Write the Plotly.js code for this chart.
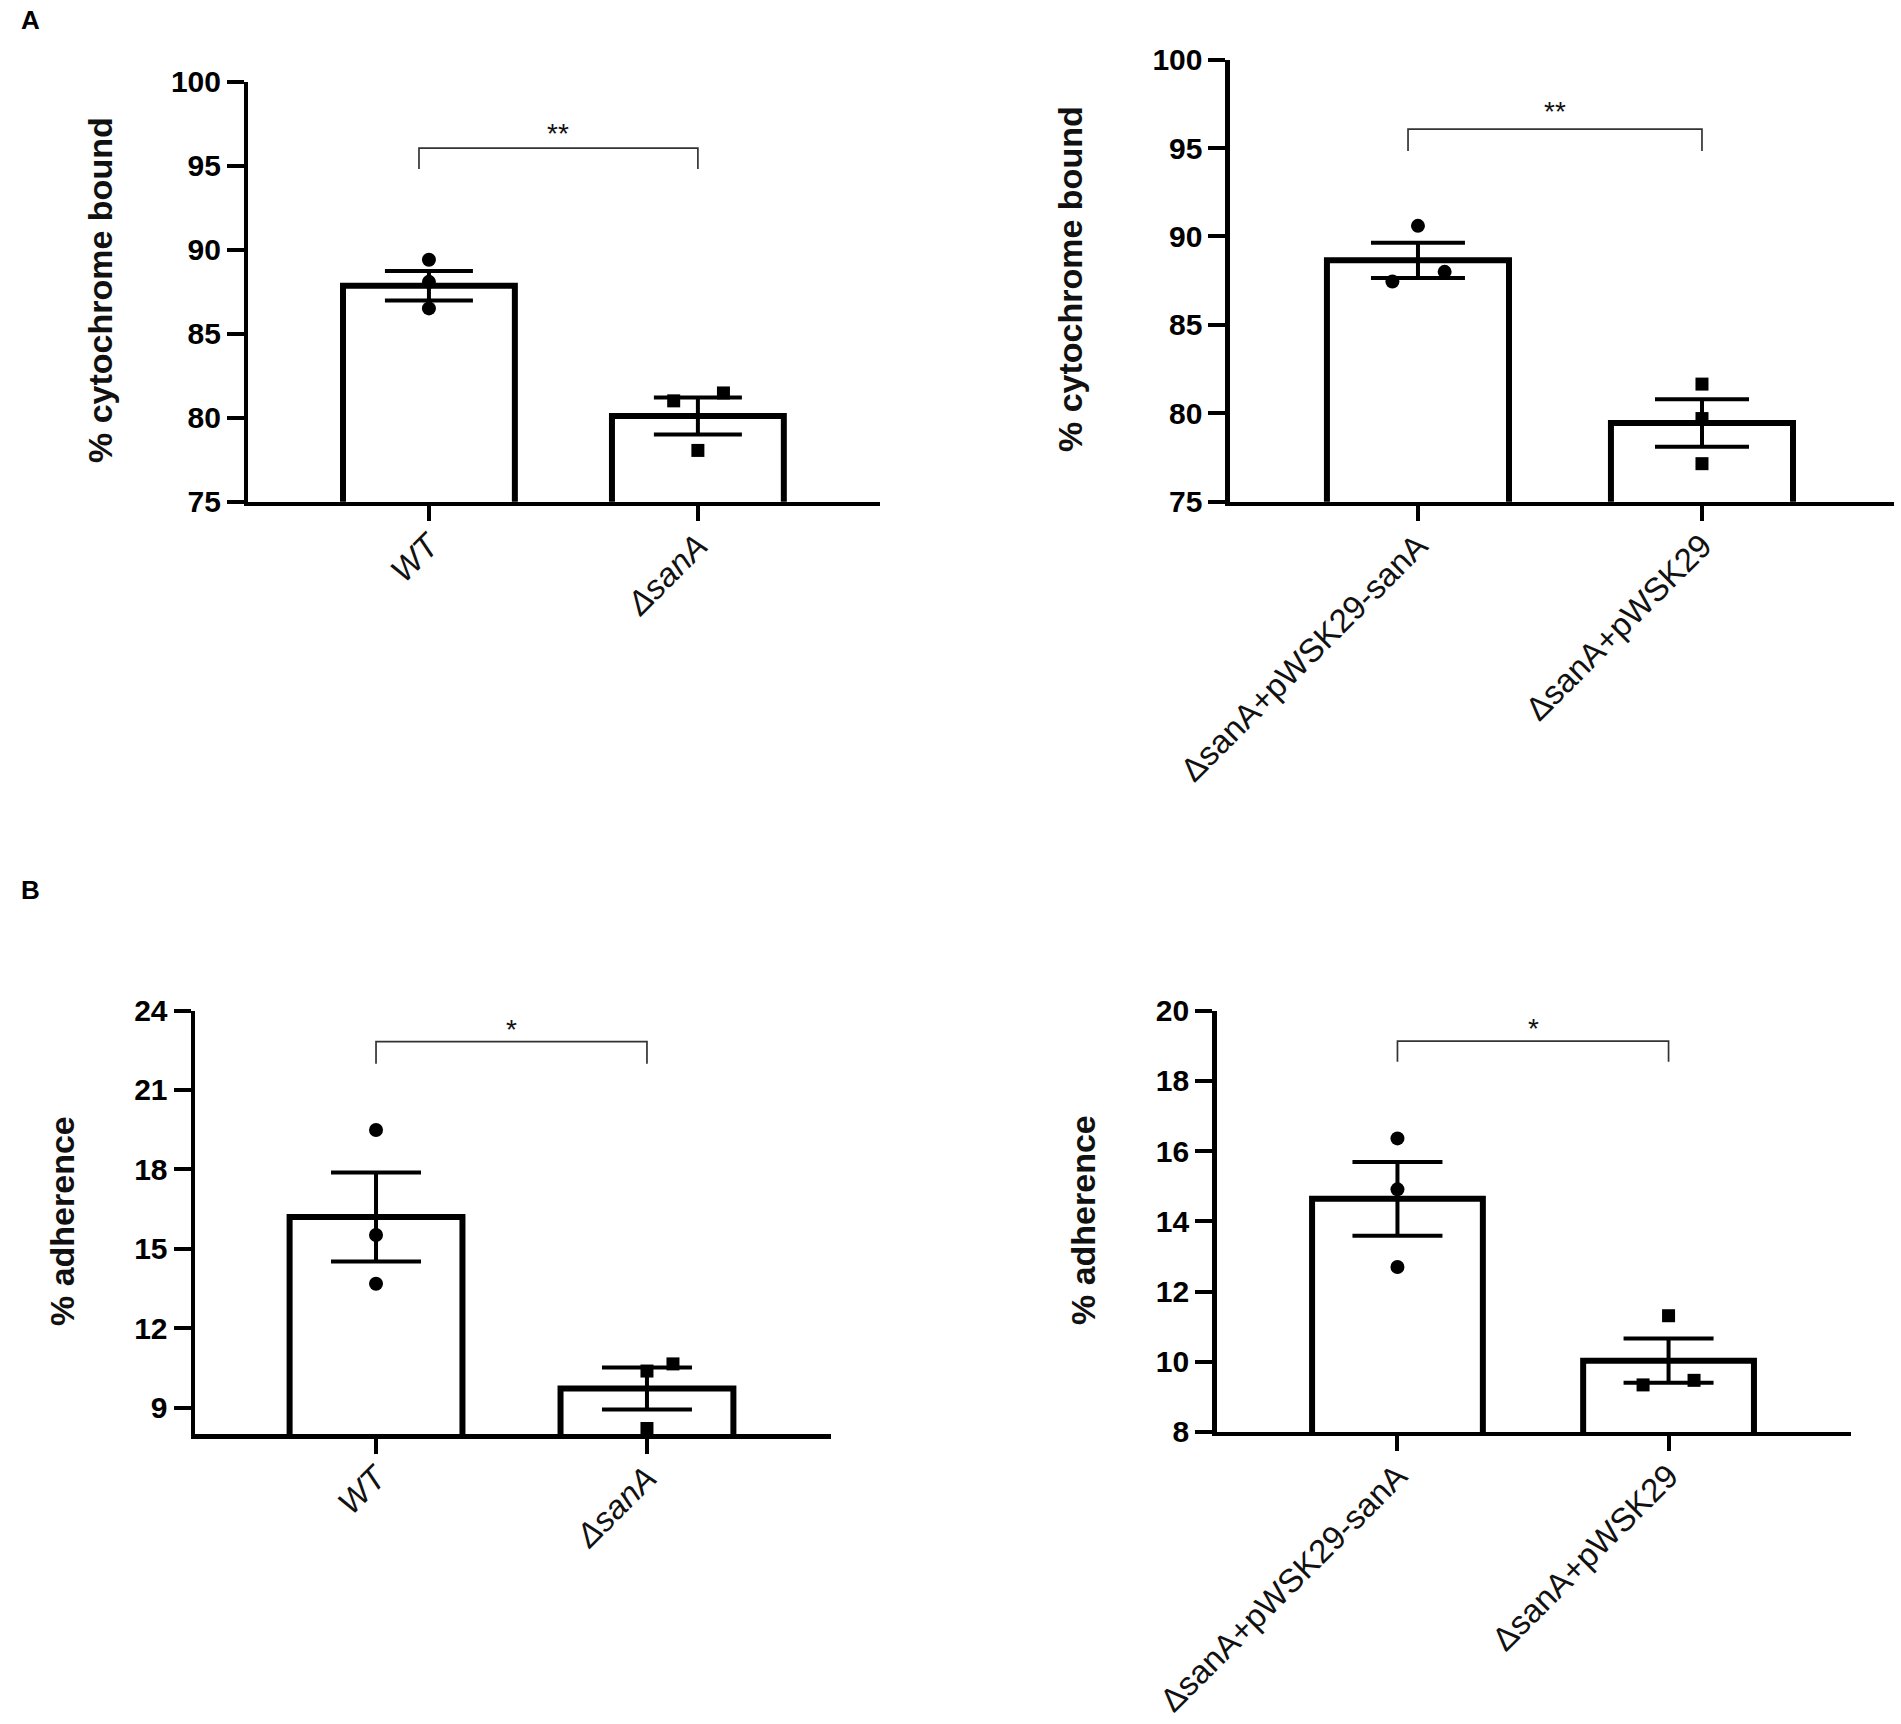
<!DOCTYPE html>
<html>
<head>
<meta charset="utf-8">
<script src="https://cdn.plot.ly/plotly-3.0.1.min.js"></script>
<style>html,body{margin:0;padding:0;background:#fff;}</style>
</head>
<body>
<div id="chart" style="width:1901px;height:1724px;"></div>
<script>
// ---------- data ----------
// Panel A (left): % cytochrome bound
const catA1 = ['WT', 'ΔsanA'];
const meanA1 = [87.85, 80.1];
const semA1 = [0.88, 1.1];
const ptsA1_g1 = [89.4, 88.08, 86.5];
const ptsA1_g2 = [81.0, 81.47, 78.05];
const jitA1_g1 = [0, 0, 0];
const jitA1_g2 = [-0.09, 0.095, 0];

// Panel A (right)
const catA2 = ['ΔsanA+pWSK29-sanA', 'ΔsanA+pWSK29'];
const meanA2 = [88.65, 79.45];
const semA2 = [1.0, 1.35];
const ptsA2_g1 = [90.6, 87.45, 88.0];
const ptsA2_g2 = [81.65, 79.7, 77.15];
const jitA2_g1 = [0, -0.09, 0.094];
const jitA2_g2 = [0, 0, 0];

// Panel B (left): % adherence
const catB1 = ['WT', 'ΔsanA'];
const meanB1 = [16.2, 9.72];
const semB1 = [1.68, 0.79];
const ptsB1_g1 = [19.49, 15.52, 13.68];
const ptsB1_g2 = [10.38, 10.65, 8.21];
const jitB1_g1 = [0, 0, 0];
const jitB1_g2 = [0, 0.096, 0];

// Panel B (right)
const catB2 = ['ΔsanA+pWSK29-sanA', 'ΔsanA+pWSK29'];
const meanB2 = [14.64, 10.03];
const semB2 = [1.05, 0.63];
const ptsB2_g1 = [16.36, 14.91, 12.7];
const ptsB2_g2 = [11.31, 9.34, 9.47];
const jitB2_g1 = [0, 0, 0];
const jitB2_g2 = [0, -0.094, 0.094];

const sigA1 = '**', sigA2 = '**', sigB1 = '*', sigB2 = '*';

// ---------- build ----------
const W = 1901, H = 1724;
const panels = [
  {cats: catA1, italic: true, mean: meanA1, sem: semA1, p1: ptsA1_g1, p2: ptsA1_g2, j1: jitA1_g1, j2: jitA1_g2,
   ax: '', yr: [75, 100], ytick: {dtick: 5, tick0: 75}, xr: [-0.671, 1.677], bw: 0.639, cap: 44,
   dom: {x: [0.1307, 0.4629], y: [0.7090, 0.9527]}, title: '% cytochrome bound', tx: 100, ty: 290,
   br: {y: 96.04, yl: 94.79, x0: -0.037, x1: 1.0, ty: 96.93}, sig: sigA1},
  {cats: catA2, italic: false, mean: meanA2, sem: semA2, p1: ptsA2_g1, p2: ptsA2_g2, j1: jitA2_g1, j2: jitA2_g2,
   ax: '2', yr: [75, 100], ytick: {dtick: 5, tick0: 75}, xr: [-0.662, 1.676], bw: 0.641, cap: 47,
   dom: {x: [0.6470, 0.9963], y: [0.7090, 0.9654]}, title: '% cytochrome bound', tx: 1070, ty: 279,
   br: {y: 96.07, yl: 94.83, x0: -0.035, x1: 1.0, ty: 97.04}, sig: sigA2},
  {cats: catB1, italic: true, mean: meanB1, sem: semB1, p1: ptsB1_g1, p2: ptsB1_g2, j1: jitB1_g1, j2: jitB1_g2,
   ax: '3', yr: [8, 24], ytick: {tickvals: [9, 12, 15, 18, 21, 24]}, xr: [-0.668, 1.679], bw: 0.638, cap: 45,
   dom: {x: [0.1026, 0.4371], y: [0.1682, 0.4138]}, title: '% adherence', tx: 62, ty: 1221,
   br: {y: 22.83, yl: 21.99, x0: 0, x1: 1.0, ty: 23.3}, sig: sigB1},
  {cats: catB2, italic: false, mean: meanB2, sem: semB2, p1: ptsB2_g1, p2: ptsB2_g2, j1: jitB2_g1, j2: jitB2_g2,
   ax: '4', yr: [8, 20], ytick: {dtick: 2, tick0: 8}, xr: [-0.667, 1.673], bw: 0.63, cap: 45,
   dom: {x: [0.6400, 0.9737], y: [0.1694, 0.4138]}, title: '% adherence', tx: 1083, ty: 1220,
   br: {y: 19.13, yl: 18.54, x0: 0, x1: 1.0, ty: 19.49}, sig: sigB2}
];

const traces = [];
const layout = {
  width: W, height: H,
  margin: {l: 0, r: 0, t: 0, b: 0},
  paper_bgcolor: '#ffffff', plot_bgcolor: 'rgba(0,0,0,0)',
  showlegend: false,
  shapes: [], annotations: []
};

panels.forEach(p => {
  const xa = 'x' + p.ax, ya = 'y' + p.ax;
  const xk = 'xaxis' + p.ax, yk = 'yaxis' + p.ax;
  traces.push({
    type: 'bar', x: [0, 1], y: p.mean, xaxis: xa, yaxis: ya, width: p.bw,
    marker: {color: '#ffffff', line: {color: '#000000', width: 6}},
    error_y: {type: 'data', array: p.sem, visible: true, color: '#000000', thickness: 4, width: p.cap},
    hoverinfo: 'skip'
  });
  traces.push({
    type: 'scatter', mode: 'markers', xaxis: xa, yaxis: ya,
    x: p.j1.map(j => 0 + j), y: p.p1,
    marker: {symbol: 'circle', size: 14, color: '#000000'}, cliponaxis: false
  });
  traces.push({
    type: 'scatter', mode: 'markers', xaxis: xa, yaxis: ya,
    x: p.j2.map(j => 1 + j), y: p.p2,
    marker: {symbol: 'square', size: 13, color: '#000000'}, cliponaxis: false
  });
  layout[xk] = {
    domain: p.dom.x, range: p.xr, anchor: ya,
    tickvals: [0, 1], ticktext: p.cats.map(c => p.italic ? '<i>' + c + '</i>' : c),
    tickangle: -45, showline: true, linecolor: '#000', linewidth: 4.5,
    ticks: 'outside', ticklen: 15, tickwidth: 4, tickcolor: '#000', ticklabelstandoff: -8,
    showgrid: false, zeroline: false, fixedrange: true,
    tickfont: {family: 'Liberation Sans, Arial, sans-serif', size: 33, color: '#111'}
  };
  layout[yk] = Object.assign({
    domain: p.dom.y, range: p.yr, anchor: xa,
    showline: true, linecolor: '#000', linewidth: 4.5,
    ticks: 'outside', ticklen: 17, tickwidth: 4, tickcolor: '#000',
    showgrid: false, zeroline: false, fixedrange: true,
    tickfont: {family: 'Liberation Sans, Arial, sans-serif', size: 30, color: '#000', weight: 'bold'}
  }, p.ytick);
  // y-axis title
  layout.annotations.push({xref: 'paper', yref: 'paper', x: p.tx / W, y: 1 - p.ty / H,
    xanchor: 'center', yanchor: 'middle', textangle: -90, showarrow: false,
    text: p.title, font: {family: 'Liberation Sans, Arial, sans-serif', size: 34, color: '#111', weight: 'bold'}});
  // significance bracket
  const lineStyle = {color: '#333', width: 1.7};
  layout.shapes.push({type: 'path', xref: xa, yref: ya,
    path: `M ${p.br.x0} ${p.br.yl} L ${p.br.x0} ${p.br.y} L ${p.br.x1} ${p.br.y} L ${p.br.x1} ${p.br.yl}`,
    line: lineStyle});
  layout.annotations.push({xref: xa, yref: ya, x: (p.br.x0 + p.br.x1) / 2, y: p.br.ty,
    text: p.sig, showarrow: false, font: {family: 'Liberation Sans, Arial, sans-serif', size: 28, color: '#111'}});
});

// panel letters
layout.annotations.push({xref: 'paper', yref: 'paper', x: 19 / W, y: 1 - 3 / H, xanchor: 'left', yanchor: 'top',
  text: '<b>A</b>', showarrow: false, font: {family: 'Liberation Sans, Arial, sans-serif', size: 26, color: '#000'}});
layout.annotations.push({xref: 'paper', yref: 'paper', x: 19 / W, y: 1 - 873 / H, xanchor: 'left', yanchor: 'top',
  text: '<b>B</b>', showarrow: false, font: {family: 'Liberation Sans, Arial, sans-serif', size: 26, color: '#000'}});

Plotly.newPlot('chart', traces, layout, {staticPlot: true, displayModeBar: false});
</script>
</body>
</html>
